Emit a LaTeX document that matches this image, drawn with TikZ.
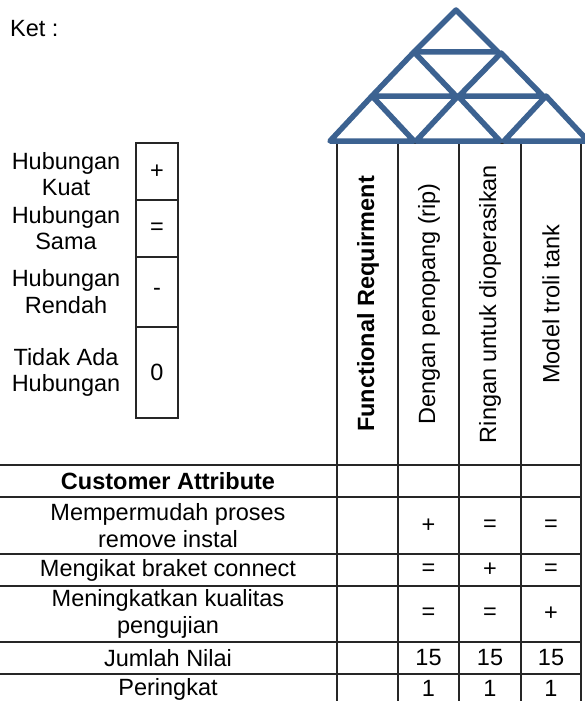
\documentclass[tikz,border=0pt]{standalone}
\usepackage{fontspec}
\setmainfont{Liberation Sans}
\usepackage{tikz}
\usetikzlibrary{positioning}
\definecolor{roofblue}{RGB}{60,98,145}
\tikzstyle{roof}=[draw=roofblue, line width=5.5pt, fill=white, line join=round]
\tikzstyle{gridline}=[draw=black!85, line width=1.4pt]
\tikzstyle{txt}=[font=\fontsize{23.5}{26.5}\selectfont, align=center, inner sep=0pt]
\tikzstyle{txtb}=[txt, font=\fontsize{23.5}{26.5}\selectfont\bfseries]
\tikzstyle{hdr}=[txt, rotate=90]
\tikzstyle{hdrb}=[txtb, rotate=90]
\tikzstyle{relsym}=[txt]

\begin{document}
\begin{tikzpicture}[x=1pt,y=-1pt]
\useasboundingbox (0,0) rectangle (584,701);

%Header box and table grid
\draw[gridline] (337,143) -- (581,143);
\draw[gridline] (337,143) -- (337,701);
\draw[gridline] (398,143) -- (398,701);
\draw[gridline] (459,143) -- (459,701);
\draw[gridline] (521,143) -- (521,701);
\draw[gridline] (581,143) -- (581,701);
\draw[gridline] (0,465) -- (581,465);
\draw[gridline] (0,497) -- (581,497);
\draw[gridline] (0,554) -- (581,554);
\draw[gridline] (0,586) -- (581,586);
\draw[gridline] (0,642) -- (581,642);
\draw[gridline] (0,674) -- (581,674);

%Roof
\filldraw[roof] (456,10) -- (414,52) -- (498,52) -- cycle;
\filldraw[roof] (414,52) -- (372,96) -- (456,96) -- cycle;
\filldraw[roof] (501,53) -- (459,96) -- (543,96) -- cycle;
\filldraw[roof] (372,96) -- (330,141) -- (414,141) -- cycle;
\filldraw[roof] (458,96) -- (416,141) -- (500,141) -- cycle;
\filldraw[roof] (546,96) -- (504,141) -- (588,141) -- cycle;

%Legend
\node[txt, anchor=base west] (ket) at (10,37) {Ket :};
\draw[gridline] (136,143) rectangle (178,418);
\draw[gridline] (136,200) -- (178,200);
\draw[gridline] (136,257) -- (178,257);
\draw[gridline] (136,327) -- (178,327);
\node[txt] (lg1) at (66,174) {Hubungan\\Kuat};
\node[txt] (lg2) at (66,228) {Hubungan\\Sama};
\node[txt] (lg3) at (66,291.5) {Hubungan\\Rendah};
\node[txt] (lg4) at (66,372.5) {Tidak Ada\\Hubungan};
\node[relsym] (lm1) at (157,171.5) {+};
\node[relsym] (lm2) at (157,228.5) {=};
\node[relsym] (lm3) at (157,292) {-};
\node[relsym] (lm4) at (157,372.5) {0};

%Column headers
\node[hdrb] (fr) at (368,304) {Functional Requirment};
\node[hdr] (h1) at (429,304) {Dengan penopang (rip)};
\node[hdr] (h2) at (490,304) {Ringan untuk dioperasikan};
\node[hdr] (h3) at (551,304) {Model troli tank};

%Rows
\node[txtb] (ca) at (168,481) {Customer Attribute};
\node[txt] (r1) at (168,525.5) {Mempermudah proses\\remove instal};
\node[txt] (r2) at (168,570) {Mengikat braket connect};
\node[txt] (r3) at (168,614) {Meningkatkan kualitas\\pengujian};
\node[txt] (r4) at (168,658) {Jumlah Nilai};
\node[txt] (r5) at (168,689) {Peringkat};

%Relations
\node[relsym] (v11) at (428.5,525.5) {+};
\node[relsym] (v12) at (490,525.5) {=};
\node[relsym] (v13) at (551,525.5) {=};
\node[relsym] (v21) at (428.5,570) {=};
\node[relsym] (v22) at (490,570) {+};
\node[relsym] (v23) at (551,570) {=};
\node[relsym] (v31) at (428.5,614) {=};
\node[relsym] (v32) at (490,614) {=};
\node[relsym] (v33) at (551,614) {+};
\node[relsym] (n1) at (428.5,658) {15};
\node[relsym] (n2) at (490,658) {15};
\node[relsym] (n3) at (551,658) {15};
\node[relsym] (p1) at (428.5,688.5) {1};
\node[relsym] (p2) at (490,688.5) {1};
\node[relsym] (p3) at (551,688.5) {1};
\end{tikzpicture}
\end{document}
